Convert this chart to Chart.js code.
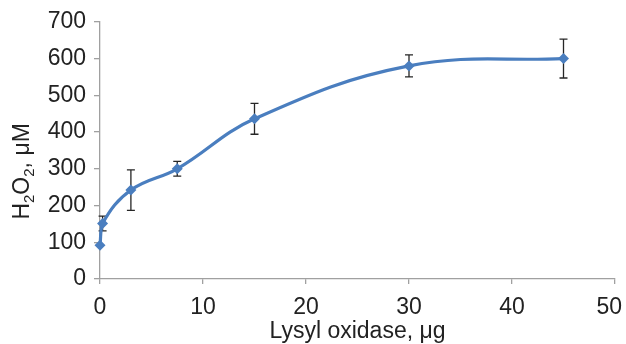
<!DOCTYPE html>
<html lang="en">
<head>
    <meta charset="UTF-8">
    <title>H2O2 vs Lysyl oxidase</title>
    <script src="https://cdn.jsdelivr.net/npm/chart.js"></script>
    <style>
        html, body { margin: 0; padding: 0; background: #fff; }
        .chart-container { position: relative; width: 626px; height: 344px; }
    </style>
</head>
<body>
    <div class="chart-container">
        <canvas id="grafico"></canvas>
    </div>

<script>
    // data
    const lysylOxidase = [0, 0.25, 3, 7.5, 15, 30, 45];       // µg
    const h2o2 = [92, 151, 242, 300, 436, 580, 600];          // µM
    const h2o2Error = [0, 20, 55, 20, 42, 30, 53];            // ± µM
    const xTicks = [0, 10, 20, 30, 40, 50];
    const yTicks = [0, 100, 200, 300, 400, 500, 600, 700];

    const fontFamily = "'Liberation Sans', Arial, sans-serif";
    const textColor = '#222';
    const axisColor = '#a0a0a0';
    const lineColor = '#4a7ebf';

    // error bars, drawn from the scales
    const errorBars = {
        id: 'errorBars',
        beforeDatasetsDraw(chart) {
            const { ctx, scales: { x, y } } = chart;
            ctx.save();
            ctx.strokeStyle = '#262626';
            ctx.lineWidth = 1.3;
            lysylOxidase.forEach((xv, i) => {
                if (!h2o2Error[i]) return;
                const px = x.getPixelForValue(xv);
                const top = y.getPixelForValue(h2o2[i] + h2o2Error[i]);
                const bottom = y.getPixelForValue(h2o2[i] - h2o2Error[i]);
                ctx.beginPath();
                ctx.moveTo(px, top); ctx.lineTo(px, bottom);
                ctx.moveTo(px - 4, top); ctx.lineTo(px + 4, top);
                ctx.moveTo(px - 4, bottom); ctx.lineTo(px + 4, bottom);
                ctx.stroke();
            });
            ctx.restore();
        }
    };

    // y title with real subscripts: H2O2, µM
    const yTitle = {
        id: 'yTitle',
        afterDraw(chart) {
            const { ctx, chartArea } = chart;
            const big = '23px ' + fontFamily;
            const small = '15px ' + fontFamily;
            const parts = [['H', big, 0], ['2', small, 5], ['O', big, 0], ['2', small, 5], [', \u03bcM', big, 0]];
            ctx.save();
            let total = 0;
            parts.forEach(p => { ctx.font = p[1]; total += ctx.measureText(p[0]).width; });
            const centerY = (chartArea.top + chartArea.bottom) / 2 + 21;
            ctx.translate(29, centerY + total / 2);
            ctx.rotate(-Math.PI / 2);
            ctx.fillStyle = textColor;
            ctx.textBaseline = 'alphabetic';
            let pos = 0;
            parts.forEach(p => {
                ctx.font = p[1];
                ctx.fillText(p[0], pos, p[2]);
                pos += ctx.measureText(p[0]).width;
            });
            ctx.restore();
        }
    };

    const ctx = document.getElementById('grafico').getContext('2d');
    new Chart(ctx, {
        type: 'scatter',
        data: {
            datasets: [{
                data: lysylOxidase.map((xv, i) => ({ x: xv, y: h2o2[i] })),
                showLine: true,
                tension: 0.4,
                borderColor: lineColor,
                backgroundColor: lineColor,
                borderWidth: 3.2,
                pointStyle: 'rectRot',
                pointRadius: 5.5,
                pointBorderWidth: 0,
                clip: false
            }]
        },
        options: {
            responsive: true,
            maintainAspectRatio: false,
            animation: false,
            layout: { padding: { top: 17, right: 11, left: 0, bottom: 0 } },
            scales: {
                x: {
                    type: 'linear',
                    min: 0,
                    max: 50,
                    afterBuildTicks: s => { s.ticks = xTicks.map(v => ({ value: v })); },
                    afterFit: s => { s.height = 65; s.paddingRight = 0; s.paddingLeft = 0; },
                    border: { display: true, color: axisColor, width: 1.3 },
                    grid: { drawOnChartArea: false, drawTicks: true, tickLength: 5, color: axisColor, lineWidth: 1.3 },
                    ticks: {
                        color: textColor,
                        padding: 10,
                        font: { family: fontFamily, size: 23 },
                        // last label pushed inside the canvas, like the original
                        callback: (v, i, arr) => i === arr.length - 1 ? v + '\u2002' : v
                    },
                    title: {
                        display: true,
                        text: 'Lysyl oxidase, \u03bcg',
                        color: textColor,
                        padding: { top: 0, bottom: -1 },
                        font: { family: fontFamily, size: 23 }
                    }
                },
                y: {
                    min: 0,
                    max: 700,
                    afterBuildTicks: s => { s.ticks = yTicks.map(v => ({ value: v })); },
                    afterFit: s => { s.width = 100; },
                    border: { display: true, color: axisColor, width: 1.3 },
                    grid: { drawOnChartArea: false, drawTicks: true, tickLength: 6, color: axisColor, lineWidth: 1.3 },
                    ticks: { color: textColor, padding: 8, font: { family: fontFamily, size: 23 } }
                }
            },
            plugins: {
                legend: { display: false },
                tooltip: { enabled: false }
            }
        },
        plugins: [errorBars, yTitle]
    });
</script>
</body>
</html>
